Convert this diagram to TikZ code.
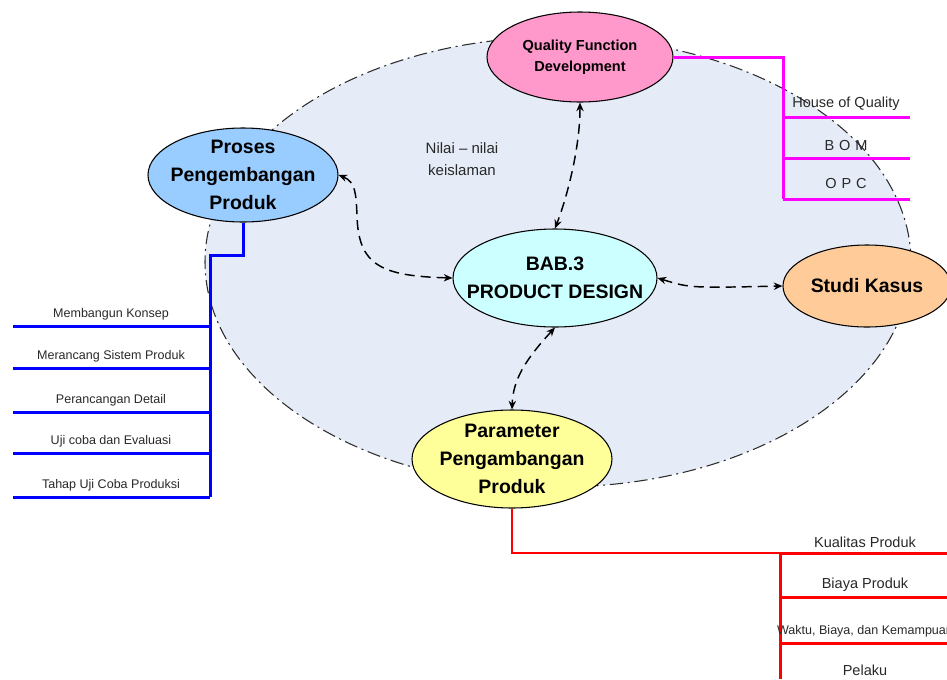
\documentclass[tikz,border=0pt]{standalone}
\usepackage{fontspec}
\setmainfont{Liberation Sans}
\usetikzlibrary{shapes.geometric,arrows.meta}

\definecolor{fieldfill}{RGB}{230,236,247}
\definecolor{fieldline}{RGB}{45,45,45}
\definecolor{qfdfill}{RGB}{255,153,204}
\definecolor{prosesfill}{RGB}{153,204,255}
\definecolor{babfill}{RGB}{204,255,255}
\definecolor{studifill}{RGB}{255,204,153}
\definecolor{paramfill}{RGB}{255,255,153}
\definecolor{labelgray}{RGB}{40,40,40}
\definecolor{branchblue}{RGB}{0,0,255}
\definecolor{branchmagenta}{RGB}{255,0,255}
\definecolor{branchred}{RGB}{255,0,0}

\tikzset{
  topic/.style={ellipse, draw=black, line width=0.8pt, inner sep=-40pt, align=center,
    font=\fontsize{14.6pt}{21pt}\selectfont\bfseries},
  link/.style={line width=1.1pt, dash pattern=on 7.5pt off 4.5pt,
    {Stealth[length=6.5pt,width=5.5pt]}-{Stealth[length=6.5pt,width=5.5pt]}},
  smalllabel/.style={anchor=base, text=labelgray, inner sep=0pt,
    font=\fontsize{9.4pt}{11pt}\selectfont},
  biglabel/.style={anchor=base, text=labelgray, inner sep=0pt,
    font=\fontsize{10.9pt}{13pt}\selectfont},
  bluebranch/.style={draw=branchblue, line width=2.25pt},
  magentabranch/.style={draw=branchmagenta, line width=2.25pt},
  redbranch/.style={draw=branchred, line width=2.25pt},
}

\begin{document}
\begin{tikzpicture}[x=0.75pt,y=-0.75pt]
\useasboundingbox (0,0) rectangle (947,679);
\clip (0,0) rectangle (947,679);

% shaded field behind the central topics
\node[ellipse, fill=fieldfill, draw=fieldline, line width=0.8pt,
      dash pattern=on 10pt off 3.5pt on 1.5pt off 3.5pt,
      minimum width=529.5pt, minimum height=337.5pt, inner sep=0pt] (field) at (558,262) {};

\node[text=labelgray, align=center, font=\fontsize{11.25pt}{16.5pt}\selectfont] (nilai) at (462,159) {Nilai – nilai\\keislaman};

% topics
\node[topic, fill=qfdfill, minimum width=139.5pt, minimum height=67.5pt,
      font=\fontsize{10.9pt}{15.75pt}\selectfont\bfseries] (qfd) at (580,57) {Quality Function\\Development};
\node[topic, fill=prosesfill, minimum width=142.5pt, minimum height=70.5pt] (proses) at (243,175) {Proses\\Pengembangan\\Produk};
\node[topic, fill=babfill, minimum width=153pt, minimum height=73.5pt] (bab) at (555,278) {BAB.3\\PRODUCT DESIGN};
\node[topic, fill=studifill, minimum width=126pt, minimum height=61.5pt] (studi) at (867,286) {Studi Kasus};
\node[topic, fill=paramfill, minimum width=150pt, minimum height=73.5pt] (param) at (512,459) {Parameter\\Pengambangan\\Produk};

% dashed two-way links to the central topic
\draw[link] (qfd.south) .. controls (580,150) and (566,200) .. (bab.north);
\draw[link] (proses.east) .. controls (356,182) and (356,195) .. (357,215)
            .. controls (358,266) and (382,276) .. (bab.west);
\draw[link] (bab.east) .. controls (690,288) .. (studi.west);
\draw[link] (bab.south) .. controls (525,360) and (513,380) .. (param.north);

% blue branch: stages of product development
\coordinate (bturn) at (210,255);
\coordinate (bfoot) at (210,497);
\draw[bluebranch] (proses.south) |- (bturn) -- (bfoot);
\foreach \y/\txt [count=\i] in {326/Membangun Konsep, 368/Merancang Sistem Produk,
    412/Perancangan Detail, 453/Uji coba dan Evaluasi, 497/Tahap Uji Coba Produksi}{
  \coordinate (bl\i) at (13,\y);
  \draw[bluebranch] (bl\i) -- (bl\i -| bturn);
  \node[smalllabel] (blab\i) at (111,\y-8.5) {\txt};
}

% magenta branch: QFD tools
\coordinate (mturn) at (783,57);
\coordinate (mfoot) at (783,199);
\draw[magentabranch] (qfd.east) -- (mturn) -- (mfoot);
\foreach \y/\txt/\dy [count=\i] in {117/House of Quality/10, 158/B\,\,O\,\,M/8, 199/O\,\,P\,\,C/11}{
  \coordinate (ml\i) at (910,\y);
  \draw[magentabranch] (ml\i) -- (ml\i -| mturn);
  \node[biglabel] (mlab\i) at (846,\y-\dy) {\txt};
}

% red branch: development parameters
\coordinate (rturn) at (512,553);
\coordinate (rjoin) at (780,553);
\coordinate (rfoot) at (780,679);
\draw[draw=branchred, line width=1.9pt] (param.south) -- (rturn) -- (rjoin);
\draw[redbranch] (rjoin) -- (rfoot);
\foreach \y [count=\i] in {553,597,643}{
  \coordinate (rl\i) at (947,\y);
  \draw[redbranch] (rl\i) -- (rl\i -| rjoin);
}
\node[biglabel] (rlab1) at (865,547) {Kualitas Produk};
\node[biglabel] (rlab2) at (865,588) {Biaya Produk};
\node[smalllabel] (rlab3) at (865,634) {Waktu, Biaya, dan Kemampuan};
\node[biglabel] (rlab4) at (865,675) {Pelaku};
\end{tikzpicture}
\end{document}
